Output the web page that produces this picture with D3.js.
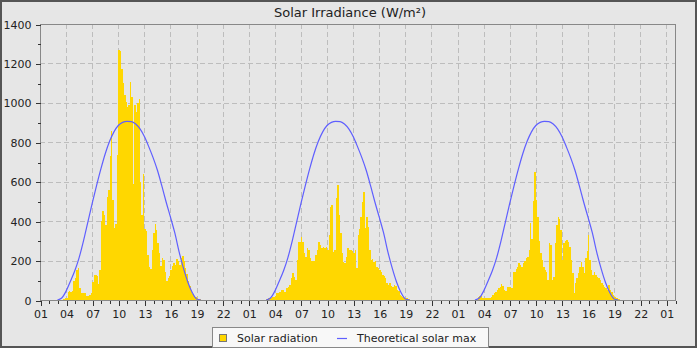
<!DOCTYPE html>
<html>
<head>
<meta charset="utf-8">
<script src="https://cdn.jsdelivr.net/npm/d3@7"></script>
<style>
  body { margin: 0; background: #fff; }
  svg text { font-family: "DejaVu Sans", sans-serif; }
</style>
</head>
<body>
<div id="chart"></div>
<script>
// solar radiation, 10-minute readings starting 03:00 each day (W/m2)
var day1Rad = [0,0,0,0,3,8,10,40,45,42,
  45,95,110,150,160,60,38,35,38,35,
  22,18,25,35,90,125,128,120,80,150,
  400,450,430,380,520,560,730,857,507,365,
  385,735,1268,1263,1172,1099,1040,1006,980,990,
  1108,1031,590,990,955,1000,1020,600,430,640,
  360,350,230,165,155,254,340,385,355,290,
  240,170,215,205,140,95,110,120,150,175,
  190,180,210,200,180,215,225,200,160,130,
  95,70,50,30,20,15,10,6,3,0];
var day2Rad = [5,8,12,12,15,17,22,34,38,42,
  50,50,40,40,60,68,76,110,135,118,
  101,203,296,296,321,296,240,220,262,254,
  211,200,200,200,230,254,296,279,262,270,
  265,270,254,330,473,482,245,254,516,583,
  431,338,237,194,186,220,262,254,254,250,
  237,254,160,330,360,420,499,549,364,423,
  372,254,203,210,194,200,169,160,152,140,
  127,120,110,85,75,85,70,68,76,70,
  51,45,25,22,17,12,8,8,4,0];
var day3Rad = [0,0,15,22,18,10,8,8,8,8,
  8,15,25,34,42,50,59,68,80,72,
  50,45,68,68,65,60,140,140,155,169,
  186,180,165,190,200,215,220,254,390,310,
  500,648,507,420,300,237,203,169,152,140,
  101,287,279,101,118,287,380,423,410,355,
  203,287,300,304,296,270,203,135,34,85,
  110,135,169,194,169,135,211,250,330,203,
  152,127,144,127,115,110,101,85,76,68,
  59,51,76,51,40,25,17,8,8,4,0];

// theoretical solar max, every 30 min from 03:00 to 19:30 (same curve each day)
var theoMax = [0,10,45,95,148,215,300,395,490,580,
  665,742,805,853,885,901,906,905,893,868,
  829,778,722,658,580,497,420,340,243,160,
  90,38,5,0];

var days = [day1Rad, day2Rad, day3Rad];
var dayOffsets = [0, 24, 48];       // hours since midnight of day 1
var yTicks = [0, 200, 400, 600, 800, 1000, 1200, 1400];
var yMinor = [100, 300, 500, 700, 900, 1100, 1300];
var xTickHours = d3.range(1, 74, 3); // 01, 04, 07 ... 01
var xMinorHours = d3.range(1, 75, 1);

var W = 700, H = 350;
var svg = d3.select('#chart').append('svg')
  .attr('width', W).attr('height', H);

// frame
svg.append('rect')
  .attr('x', 1).attr('y', 1).attr('width', 695).attr('height', 346)
  .attr('fill', '#e6e6e6').attr('stroke', '#555').attr('stroke-width', 2);

var x = d3.scaleLinear().domain([1, 74]).range([40, 675]);
var y = d3.scaleLinear().domain([0, 1400]).range([300, 24]);

svg.append('text')
  .attr('x', 350).attr('y', 17)
  .attr('text-anchor', 'middle')
  .attr('font-size', 13).attr('fill', '#222')
  .text('Solar Irradiance (W/m²)');

// grid
var grid = svg.append('g')
  .attr('stroke', '#bdbdbd').attr('stroke-dasharray', '5,3')
  .attr('shape-rendering', 'crispEdges');
grid.selectAll('.gy').data(yTicks).enter().append('line')
  .attr('x1', 40).attr('x2', 675)
  .attr('y1', function(d) { return Math.round(y(d)) + 0.5; })
  .attr('y2', function(d) { return Math.round(y(d)) + 0.5; });
grid.selectAll('.gx').data(xTickHours).enter().append('line')
  .attr('y1', 24).attr('y2', 300)
  .attr('x1', function(d) { return Math.round(x(d)) + 0.5; })
  .attr('x2', function(d) { return Math.round(x(d)) + 0.5; });

// bars
var barData = [];
days.forEach(function(arr, di) {
  arr.forEach(function(v, j) {
    barData.push({ t: dayOffsets[di] + 3 + j / 6, v: v });
  });
});
svg.append('g').attr('shape-rendering', 'crispEdges')
  .selectAll('rect').data(barData.filter(function(d) { return d.v > 0; }))
  .enter().append('rect')
  .attr('x', function(d) { return Math.round(x(d.t)); })
  .attr('width', function(d) { return Math.round(x(d.t + 1 / 6)) - Math.round(x(d.t)); })
  .attr('y', function(d) { return Math.round(y(d.v)); })
  .attr('height', function(d) { return 300 - Math.round(y(d.v)); })
  .attr('fill', '#ffd700');

// theoretical curve
var line = d3.line()
  .x(function(d) { return x(d.t); })
  .y(function(d) { return y(d.v); })
  .curve(d3.curveMonotoneX);
dayOffsets.forEach(function(off) {
  var pts = theoMax.map(function(v, k) { return { t: off + 3 + k * 0.5, v: v }; });
  svg.append('path').datum(pts)
    .attr('d', line)
    .attr('fill', 'none')
    .attr('stroke', '#5f5fff')
    .attr('stroke-width', 1.2);
});

// plot border
svg.append('rect')
  .attr('x', 40.5).attr('y', 24.5).attr('width', 635).attr('height', 276)
  .attr('fill', 'none').attr('stroke', '#888')
  .attr('shape-rendering', 'crispEdges');

// axes
var yAxis = svg.append('g').attr('transform', 'translate(40.5,0.5)')
  .call(d3.axisLeft(y).tickValues(yTicks).tickSize(5).tickPadding(4)
    .tickFormat(d3.format('d')));
var yAxisMinor = svg.append('g').attr('transform', 'translate(40.5,0.5)')
  .call(d3.axisLeft(y).tickValues(yMinor).tickSize(3).tickFormat(''));
var xAxis = svg.append('g').attr('transform', 'translate(0.5,300.5)')
  .call(d3.axisBottom(x).tickValues(xTickHours).tickSize(5).tickPadding(5)
    .tickFormat(function(h) { return d3.format('02d')(h % 24); }));
var xAxisMinor = svg.append('g').attr('transform', 'translate(0.5,300.5)')
  .call(d3.axisBottom(x).tickValues(xMinorHours).tickSize(3).tickFormat(''));

[yAxis, yAxisMinor, xAxis, xAxisMinor].forEach(function(g) {
  g.select('.domain').remove();
  g.selectAll('line').attr('stroke', '#333').attr('shape-rendering', 'crispEdges');
  g.selectAll('text').attr('font-size', 11).attr('fill', '#222')
    .attr('font-family', '"DejaVu Sans", sans-serif');
});

// legend
var lg = svg.append('g');
lg.append('rect')
  .attr('x', 212.5).attr('y', 327.5).attr('width', 276).attr('height', 20)
  .attr('fill', '#f8f8f8').attr('stroke', '#888');
lg.append('rect')
  .attr('x', 219.5).attr('y', 334.5).attr('width', 7).attr('height', 7)
  .attr('fill', '#ffd700').attr('stroke', '#777');
lg.append('text')
  .attr('x', 237).attr('y', 341.5).attr('font-size', 11).attr('fill', '#222')
  .text('Solar radiation');
lg.append('line')
  .attr('x1', 337).attr('x2', 347).attr('y1', 338.5).attr('y2', 338.5)
  .attr('stroke', '#5f5fff').attr('stroke-width', 1.2);
lg.append('text')
  .attr('x', 357).attr('y', 341.5).attr('font-size', 11).attr('fill', '#222')
  .text('Theoretical solar max');
</script>
</body>
</html>
